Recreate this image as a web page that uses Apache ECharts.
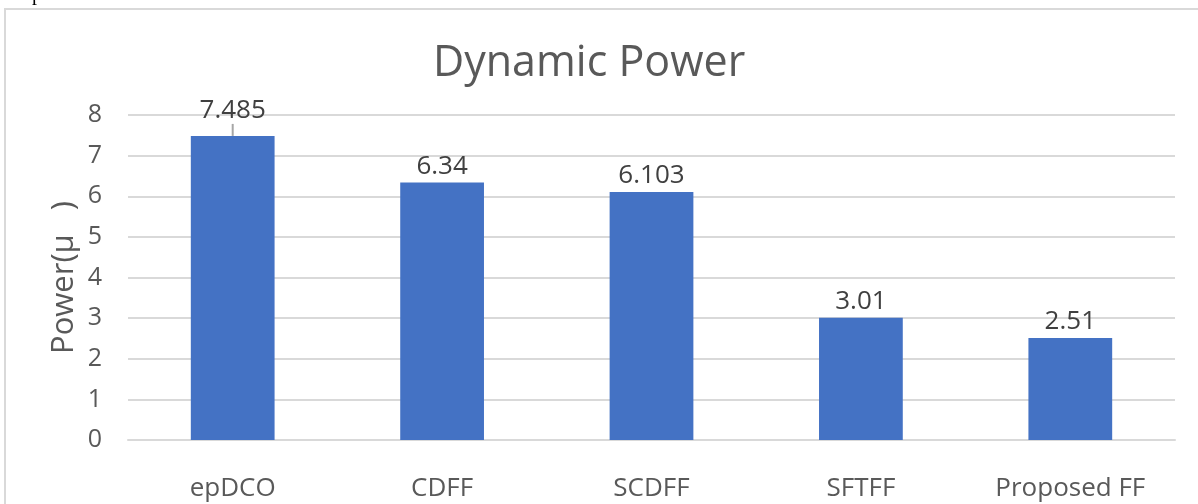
<!DOCTYPE html>
<html>
<head>
<meta charset="utf-8">
<script src="https://cdn.jsdelivr.net/npm/echarts@6/dist/echarts.min.js"></script>
<style>
  html, body { margin: 0; padding: 0; background: #ffffff; }
  #chart { width: 1198px; height: 504px; }
</style>
</head>
<body>
<div id="chart"></div>
<script>
// Dynamic power per flip-flop design
const categories = ['epDCO', 'CDFF', 'SCDFF', 'SFTFF', 'Proposed FF'];
const powerValues = [7.485, 6.34, 6.103, 3.01, 2.51];
const yTicks = [0, 1, 2, 3, 4, 5, 6, 7, 8];

const font = '"Open Sans", "Noto Sans", sans-serif';
const chart = echarts.init(document.getElementById('chart'));

chart.setOption({
  animation: false,
  title: {
    text: 'Dynamic Power',
    left: 428,
    top: 37,
    textStyle: { fontFamily: font, fontSize: 43, fontWeight: 'normal', color: '#595959' }
  },
  graphic: [
    {
      type: 'rect',
      shape: { x: 5, y: 9, width: 1210, height: 520 },
      style: { fill: 'none', stroke: '#d9d9d9', lineWidth: 2 },
      silent: true
    },
    {
      type: 'text',
      left: 32, top: -15,
      style: { text: 'p', font: '20px "Liberation Serif", serif', fill: '#000000' }
    }
  ],
  grid: { left: 128, right: 23, top: 115, bottom: 64 },
  xAxis: {
    type: 'category',
    data: categories,
    axisLine: { lineStyle: { color: '#d9d9d9', width: 2 } },
    axisTick: { show: false },
    axisLabel: { fontFamily: font, fontSize: 26, color: '#595959', margin: 36 }
  },
  yAxis: {
    type: 'value',
    min: yTicks[0],
    max: yTicks[yTicks.length - 1],
    interval: 1,
    name: 'Power(\u03bc   )',
    nameLocation: 'middle',
    nameGap: 48,
    nameMoveOverlap: false,
    nameRotate: 90,
    nameTextStyle: { fontFamily: font, fontSize: 31, color: '#595959' },
    axisLine: { show: false },
    axisTick: { show: false },
    splitLine: { lineStyle: { color: '#d9d9d9', width: 2 } },
    axisLabel: { fontFamily: font, fontSize: 25, color: '#595959', margin: 26 }
  },
  series: [{
    type: 'bar',
    data: powerValues.map((v, i) => i === 0
      ? { value: v, labelLine: { show: true, lineStyle: { color: '#a6a6a6', width: 2 } } }
      : (i === 2 ? { value: v, label: { offset: [5, 0] } } : v)),
    barWidth: '40%',
    itemStyle: { color: '#4472c4' },
    label: {
      show: true,
      position: 'top',
      distance: 3,
      fontFamily: font,
      fontSize: 26,
      color: '#404040'
    },
    labelLayout: function (p) {
      return p.dataIndex === 0 ? { dy: -9 } : {};
    }
  }]
});
</script>
</body>
</html>
